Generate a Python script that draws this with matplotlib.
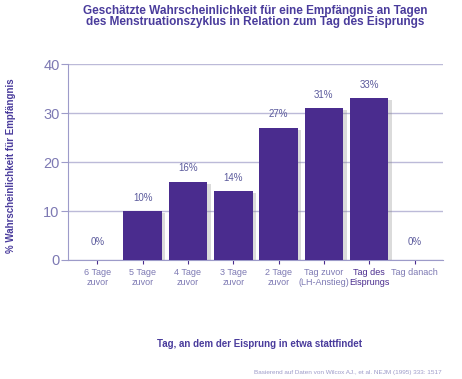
import numpy as np
import matplotlib.pyplot as plt
import matplotlib.patheffects as pe

# --- Data ---
categories = ['6 Tage\nzuvor', '5 Tage\nzuvor', '4 Tage\nzuvor', '3 Tage\nzuvor',
              '2 Tage\nzuvor', 'Tag zuvor\n(LH-Anstieg)', 'Tag des\nEisprungs', 'Tag danach']
values = [0, 10, 16, 14, 27, 31, 33, 0]
value_labels = ['0%', '10%', '16%', '14%', '27%', '31%', '33%', '0%']
yticks = [0, 10, 20, 30, 40]

# --- Style ---
BAR = '#4a2c8e'
TITLE = '#4a3c9c'
LIGHT = '#7d79b3'
GRID = '#bcbad8'
AXIS = '#9d9bc9'

plt.rcParams['font.family'] = ['Liberation Sans', 'DejaVu Sans']

fig = plt.figure(figsize=(4.62, 3.79), dpi=100)
ax = fig.add_axes([0.147, 0.314, 0.812, 0.517])

x = np.arange(len(categories))
bars = ax.bar(x, values, width=0.85, color=BAR, zorder=3)
for b in bars:
    b.set_path_effects([pe.SimplePatchShadow(offset=(2.5, -1.5), shadow_rgbFace='#888888', alpha=0.3),
                        pe.Normal()])

for xi, v, lab in zip(x, values, value_labels):
    ax.annotate(lab, (xi, v), xytext=(0, 6 if v > 0 else 9), textcoords='offset points',
                ha='center', va='bottom', fontsize=7, color='#5b5a9c', zorder=4)

ax.set_xlim(-0.65, 7.63)
ax.set_ylim(0, 40)
ax.set_yticks(yticks)
ax.yaxis.grid(True, color=GRID, linewidth=1.0, zorder=0)
ax.set_axisbelow(True)

for s in ['top', 'right']:
    ax.spines[s].set_visible(False)
ax.spines['left'].set_color(AXIS)
ax.spines['bottom'].set_color(AXIS)

ax.tick_params(axis='y', colors=AXIS, labelcolor=LIGHT, labelsize=10.5, length=5, pad=1)
ax.tick_params(axis='x', colors=BAR, labelcolor=LIGHT, labelsize=6.5, length=3, pad=3)
ax.set_xticks(x)
ax.set_xticklabels(categories, linespacing=1.1)
ax.get_xticklabels()[6].set_color(BAR)

fig.text(0.024, 0.562, '% Wahrscheinlichkeit für Empfängnis', rotation=90,
         ha='center', va='center', fontsize=7, fontweight='bold', color=TITLE)

fig.text(0.552, 0.988, 'Geschätzte Wahrscheinlichkeit für eine Empfängnis an Tagen\n'
         'des Menstruationszyklus in Relation zum Tag des Eisprungs',
         ha='center', va='top', fontsize=8.5, fontweight='bold', color=TITLE, linespacing=0.95)

fig.text(0.561, 0.092, 'Tag, an dem der Eisprung in etwa stattfindet',
         ha='center', va='center', fontsize=7, fontweight='bold', color=TITLE)

fig.text(0.955, 0.018, 'Basierend auf Daten von Wilcox AJ., et al. NEJM (1995) 333: 1517',
         ha='right', va='center', fontsize=4.6, color=AXIS)

fig.savefig('out.png', dpi=100)
